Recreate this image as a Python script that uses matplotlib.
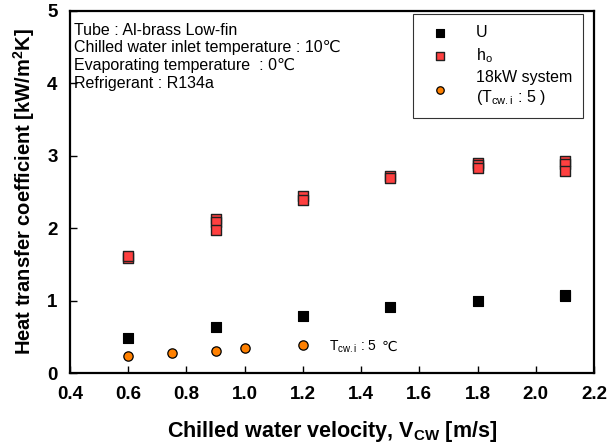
import matplotlib
matplotlib.use("Agg")
import matplotlib.pyplot as plt

plt.rcParams.update({
    "font.family": ["Liberation Sans", "DejaVu Sans"],
    "mathtext.fontset": "custom",
    "mathtext.rm": "Liberation Sans",
    "mathtext.it": "Liberation Sans:italic",
    "mathtext.bf": "Liberation Sans:bold",
})

# overall heat transfer coefficient U
u_vel = [0.6, 0.9, 1.2, 1.5, 1.8, 2.1, 2.1]
u_val = [0.48, 0.64, 0.78, 0.91, 1.00, 1.06, 1.08]

# outside coefficient h_o
ho_vel = [0.6, 0.6, 0.9, 0.9, 0.9, 1.2, 1.2, 1.5, 1.5, 1.8, 1.8, 1.8, 2.1, 2.1, 2.1]
ho_val = [1.59, 1.62, 2.12, 2.08, 1.97, 2.44, 2.39, 2.72, 2.69, 2.90, 2.87, 2.83, 2.93, 2.88, 2.79]

# 18kW system, T_cw.i = 5
sys_vel = [0.6, 0.75, 0.9, 1.0, 1.2]
sys_val = [0.24, 0.27, 0.30, 0.34, 0.38]

info_lines = [
    "Tube : Al-brass Low-fin",
    "Chilled water inlet temperature : 10\u2103",
    "Evaporating temperature  : 0\u2103",
    "Refrigerant : R134a",
]

fig = plt.figure(figsize=(6.11, 4.47), dpi=100)
ax = fig.add_axes([0.1146, 0.1655, 0.8576, 0.811])

ax.scatter(u_vel, u_val, marker="s", s=45, color="black", edgecolors="black",
           linewidths=0.8, label="U", zorder=3)
ax.scatter(ho_vel, ho_val, marker="s", s=45, color="#ff4040", edgecolors="#202020",
           linewidths=1.0, label=r"h$_{\mathrm{o}}$", zorder=3)
ax.scatter(sys_vel, sys_val, marker="o", s=45, color="#ff8000", edgecolors="black",
           linewidths=0.9, label="18kW system\n" + r"(T$_{\mathrm{cw.i}}$ : 5 )", zorder=3)

ax.set_xlim(0.4, 2.2)
ax.set_ylim(0, 5)
ax.set_xticks([0.4, 0.6, 0.8, 1.0, 1.2, 1.4, 1.6, 1.8, 2.0, 2.2])
ax.set_xticklabels([f"{v:.1f}" for v in ax.get_xticks()])
ax.set_yticks([0, 1, 2, 3, 4, 5])
ax.tick_params(direction="in", length=5, width=1, labelsize=13.5)
ax.tick_params(axis="x", pad=9)
ax.tick_params(axis="y", pad=9)
for lab in ax.get_xticklabels() + ax.get_yticklabels():
    lab.set_fontweight("bold")
for sp in ax.spines.values():
    sp.set_linewidth(1.6)

ax.set_xlabel(r"Chilled water velocity, V$_{\mathbf{CW}}$ [m/s]", fontsize=15.5,
              fontweight="bold", labelpad=12)
ax.set_ylabel(r"Heat transfer coefficient [kW/m$^{\mathbf{2}}$K]", fontsize=14.5,
              fontweight="bold", labelpad=7)

ax.text(0.008, 0.966, "\n".join(info_lines), transform=ax.transAxes, fontsize=11.5,
        va="top", ha="left", linespacing=1.22)
note = ax.text(1.29, 0.36, r"T$_{\mathrm{cw.i}}$ : 5", fontsize=10, va="center", ha="left")
ax.annotate("\u2103", xy=(1, 0.5), xycoords=note, xytext=(3, 0), textcoords="offset points",
            fontsize=10, va="center", ha="left")

leg = ax.legend(loc="upper right", bbox_to_anchor=(0.979, 0.99), fontsize=11.5,
                frameon=True, fancybox=False, edgecolor="black", borderpad=0.7,
                handletextpad=1.2, labelspacing=0.35, scatterpoints=1, markerscale=0.8,
                borderaxespad=0)
leg.get_frame().set_linewidth(0.8)

fig.savefig("out.png", dpi=100)
